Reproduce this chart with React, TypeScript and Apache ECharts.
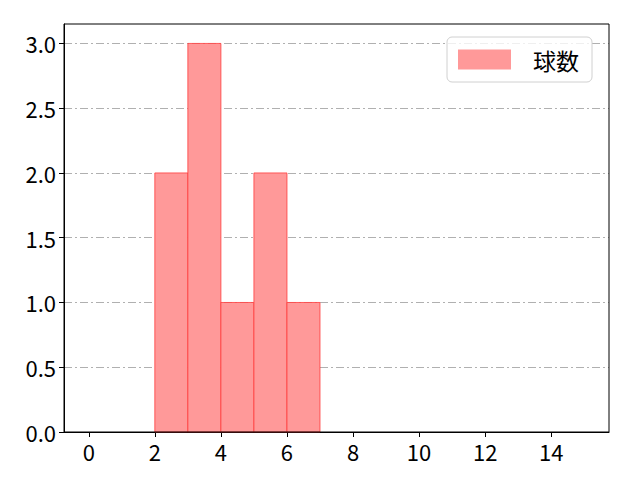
import { useEffect, useRef } from 'react'
import * as echarts from 'echarts'

// histogram bins (left edge) and counts
const binStarts = [2, 3, 4, 5, 6]
const counts = [2, 3, 1, 2, 1]
const binWidth = 1
const xTicks = [0, 2, 4, 6, 8, 10, 12, 14]
const yTicks = [0, 0.5, 1.0, 1.5, 2.0, 2.5, 3.0]
const seriesName = '球数'

const font = '"Noto Sans CJK JP", "Noto Sans", sans-serif'

export default function App() {
  const chartRef = useRef<HTMLDivElement>(null)

  useEffect(() => {
    if (!chartRef.current) return
    const chart = echarts.init(chartRef.current, undefined, { renderer: 'svg' })

    const data = binStarts.map((x, i) => [x, x + binWidth, counts[i]])

    chart.setOption({
      animation: false,
      textStyle: { fontFamily: font },
      grid: { left: 64, right: 31, top: 24, bottom: 48, containLabel: false },
      legend: {
        data: [{ name: seriesName, icon: 'rect' }],
        left: 447,
        top: 37,
        orient: 'vertical',
        itemWidth: 53,
        itemHeight: 20,
        padding: [11, 13, 11, 11],
        borderColor: '#d0d0d0',
        borderWidth: 1,
        borderRadius: 5,
        backgroundColor: 'rgba(255,255,255,0.8)',
        textStyle: { fontSize: 23, color: '#000', fontFamily: font, padding: [0, 0, 0, 17] },
      },
      xAxis: {
        type: 'value',
        min: -0.75,
        max: 15.75,
        axisLine: { onZero: false, lineStyle: { color: '#000', width: 1 } },
        axisTick: { show: true, length: 5, customValues: xTicks, lineStyle: { color: '#000' } },
        axisLabel: { customValues: xTicks, fontSize: 22, color: '#000', margin: 8, fontFamily: font },
        splitLine: { show: false },
      },
      yAxis: {
        type: 'value',
        min: 0,
        max: 3.15,
        interval: 0.5,
        axisLine: { show: true, onZero: false, lineStyle: { color: '#000', width: 1 } },
        axisTick: { show: true, length: 5, customValues: yTicks, lineStyle: { color: '#000' } },
        axisLabel: {
          customValues: yTicks,
          fontSize: 22,
          color: '#000',
          margin: 8,
          fontFamily: font,
          formatter: (v: number) => v.toFixed(1),
        },
        splitLine: { show: true, lineStyle: { color: '#b0b0b0', width: 1, type: [8, 3, 2, 3] } },
      },
      graphic: [
        {
          type: 'rect',
          shape: { x: 64, y: 24, width: 545, height: 408 },
          style: { fill: 'none', stroke: '#000', lineWidth: 1 },
          silent: true,
          z: 100,
        },
      ],
      series: [
        {
          name: seriesName,
          type: 'custom',
          data,
          encode: { x: [0, 1], y: 2 },
          itemStyle: { color: '#ff9999' },
          renderItem: (_params: any, api: any) => {
            const p0 = api.coord([api.value(0), api.value(2)])
            const p1 = api.coord([api.value(1), 0])
            return {
              type: 'rect',
              shape: { x: p0[0], y: p0[1], width: p1[0] - p0[0], height: p1[1] - p0[1] },
              style: { fill: '#ff9999', stroke: 'rgba(255,60,60,0.8)', lineWidth: 1 },
            }
          },
        },
      ],
    })

    return () => {
      chart.dispose()
    }
  }, [])

  return (
    <div
      ref={chartRef}
      style={{ position: 'absolute', left: 0, top: 0, width: 640, height: 480 }}
    ></div>
  )
}
